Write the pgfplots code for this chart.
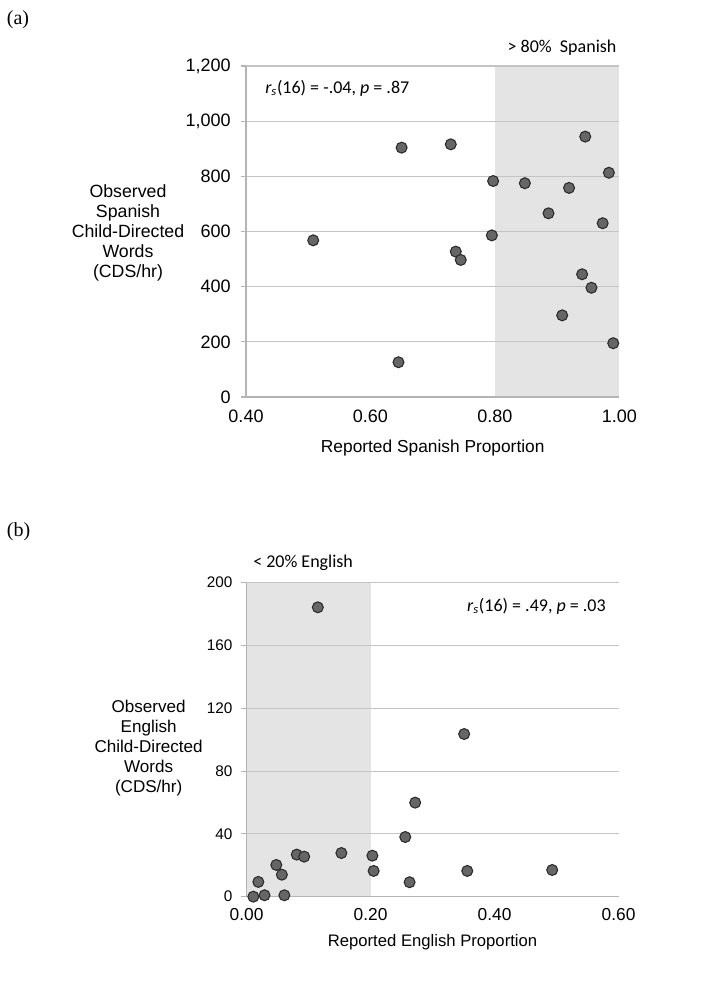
\documentclass[border=0pt]{standalone}
\usepackage{fontspec}
\setmainfont{Liberation Sans}
\newfontfamily\calibri{Carlito}
\newfontfamily\timesf{Liberation Serif}
\usepackage{pgfplots}
\pgfplotsset{compat=1.18}
\definecolor{shade}{HTML}{E4E4E4}
\definecolor{gridc}{HTML}{C4C4C4}
\definecolor{axisc}{HTML}{B4B4B4}
\definecolor{mfill}{HTML}{666666}
\definecolor{mdraw}{HTML}{2A2A2A}
\pgfplotsset{
  myax/.style={
    scale only axis, set layers,
    axis x line=bottom, axis y line=left,
    axis line style={-, draw=axisc, line width=0.8pt},
    ymajorgrids, grid style={gridc, line width=0.8pt},
    xtick style={draw=none},
    ytick style={draw=axisc, line width=0.8pt},
    tick align=outside, major tick length=4pt,
    clip=false,
  },
  dots/.style={only marks, mark=*, mark size=4.1pt,
    mark options={fill=mfill, draw=mdraw, line width=0.8pt}},
}
\begin{document}
\begin{tikzpicture}
\path (0,0) rectangle (540pt,-740.25pt);
% ---------------- (a) ----------------
\node[font=\timesf\fontsize{15}{16}\selectfont] at (13.5pt,-14.5pt) {(a)};
\begin{axis}[myax, at={(184.5pt,-297.75pt)}, anchor=south west,
  width=280.1pt, height=248.25pt,
  xmin=0.4, xmax=1.0, ymin=0, ymax=1200,
  xtick={0.4,0.6,0.8,1.0}, xticklabels={0.40,0.60,0.80,1.00},
  ytick={0,200,400,600,800,1000,1200},
  yticklabels={0,200,400,600,800,{1,000},{1,200}},
  xticklabel style={font=\fontsize{13.5}{15}\selectfont, yshift=-2pt},
  yticklabel style={font=\fontsize{13.5}{15}\selectfont, xshift=-4pt},
  xlabel={Reported Spanish Proportion},
  xlabel style={font=\fontsize{13}{15}\selectfont, yshift=-6.5pt},
]
\addplot[fill=shade, draw=none, on layer=axis background] coordinates {(0.8,1200) (1.0,1200)} \closedcycle;
\addplot[dots] coordinates {
(0.650,904) (0.729,916) (0.945,944) (0.983,813) (0.797,783) (0.848,775)
(0.919,758) (0.886,666) (0.973,630) (0.795,586) (0.508,568) (0.737,527)
(0.745,497) (0.940,445) (0.955,396) (0.908,296) (0.990,195) (0.645,126)
};
\end{axis}
\node[font=\fontsize{13.3}{15}\selectfont, align=center] at (96pt,-174.75pt)
  {Observed\\Spanish\\Child-Directed\\Words\\(CDS/hr)};
\node[font=\calibri\fontsize{13.5}{15}\selectfont, anchor=west, inner sep=0pt] at (198.75pt,-66pt)
  {{\itshape r}\textsubscript{\itshape s}(16) = -.04, {\itshape p} = .87};
\node[font=\calibri\fontsize{13.5}{15}\selectfont, anchor=east, inner sep=0pt] at (462.5pt,-36pt)
  {> 80\%\ \ Spanish};
% ---------------- (b) ----------------
\node[font=\timesf\fontsize{15}{16}\selectfont] at (13.9pt,-399pt) {(b)};
\begin{axis}[myax, at={(184.9pt,-672.5pt)}, anchor=south west,
  width=279pt, height=235.5pt,
  xmin=0, xmax=0.6, ymin=0, ymax=200,
  xtick={0,0.2,0.4,0.6}, xticklabels={0.00,0.20,0.40,0.60},
  ytick={0,40,80,120,160,200}, yticklabels={0,40,80,120,160,200},
  xticklabel style={font=\fontsize{13}{15}\selectfont, yshift=-1.5pt},
  yticklabel style={font=\fontsize{11.5}{13}\selectfont, xshift=-3pt},
  xlabel={Reported English Proportion},
  xlabel style={font=\fontsize{12.5}{15}\selectfont, yshift=-3pt},
]
\addplot[fill=shade, draw=none, on layer=axis background] coordinates {(0,200) (0.2,200)} \closedcycle;
\addplot[dots] coordinates {
(0.115,184.3) (0.351,103.6) (0.272,59.9) (0.256,38.0) (0.153,27.8) (0.081,26.8)
(0.093,25.5) (0.203,26.1) (0.048,20.2) (0.057,14.0) (0.205,16.4) (0.356,16.4)
(0.493,17.0) (0.263,9.2) (0.019,9.4) (0.011,0.0) (0.029,0.9) (0.061,0.9)
};
\end{axis}
\node[font=\fontsize{12.8}{15}\selectfont, align=center] at (111.5pt,-561pt)
  {Observed\\English\\Child-Directed\\Words\\(CDS/hr)};
\node[font=\calibri\fontsize{13.5}{15}\selectfont, anchor=west, inner sep=0pt] at (189.75pt,-422.25pt)
  {< 20\% English};
\node[font=\calibri\fontsize{13.5}{15}\selectfont, anchor=east, inner sep=0pt] at (454.5pt,-454.5pt)
  {{\itshape r}\textsubscript{\itshape s}(16) = .49, {\itshape p} = .03};
\end{tikzpicture}
\end{document}
